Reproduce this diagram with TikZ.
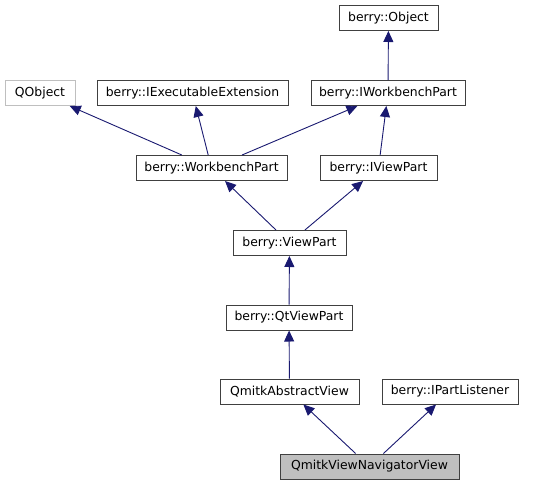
\documentclass[tikz,border=0pt]{standalone}
\usepackage{fontspec}
\setmainfont{DejaVu Sans}
\usetikzlibrary{arrows.meta}
\definecolor{edgeblue}{HTML}{191970}
\definecolor{boxgray}{HTML}{404040}
\definecolor{lightgray}{HTML}{BFBFBF}
\tikzset{
  cls/.style={draw=boxgray, fill=white, line width=1pt, minimum height=25pt, inner sep=0pt, font=\fontsize{12.4}{14}\selectfont},
  ext/.style={cls, draw=lightgray},
  this/.style={cls, fill=lightgray},
  inherit/.style={edgeblue, line width=0.9pt, {Triangle[length=11pt, width=10pt]}-}
}

\begin{document}
\begin{tikzpicture}[x=1pt, y=-1pt]
            \useasboundingbox (0,0) rectangle (556,485);
            \node[cls, minimum width=99pt] (object) at (388.5,18) {berry::Object};
            \node[ext, minimum width=70pt] (qobject) at (40,93) {QObject};
            \node[cls, minimum width=191pt] (execext) at (192.5,93) {berry::IExecutableExtension};
            \node[cls, minimum width=154pt] (iwbpart) at (388,93) {berry::IWorkbenchPart};
            \node[cls, minimum width=151pt] (wbpart) at (211.5,168) {berry::WorkbenchPart};
            \node[cls, minimum width=117pt] (iviewpart) at (378.5,168) {berry::IViewPart};
            \node[cls, minimum width=113pt] (viewpart) at (289.5,243) {berry::ViewPart};
            \node[cls, minimum width=126pt] (qtviewpart) at (289,317.5) {berry::QtViewPart};
            \node[cls, minimum width=139pt] (abstractview) at (289.5,391.5) {QmitkAbstractView};
            \node[cls, minimum width=136pt] (partlistener) at (450,391.5) {berry::IPartListener};
            \node[this, minimum width=179pt] (navview) at (369.5,466.5) {QmitkViewNavigatorView};
            \draw[inherit] (object) -- (iwbpart);
            \draw[inherit] (qobject) -- (wbpart);
            \draw[inherit] (execext) -- (wbpart);
            \draw[inherit] (iwbpart) -- (wbpart);
            \draw[inherit] (iwbpart) -- (iviewpart);
            \draw[inherit] (wbpart) -- (viewpart);
            \draw[inherit] (iviewpart) -- (viewpart);
            \draw[inherit] (viewpart) -- (qtviewpart);
            \draw[inherit] (qtviewpart) -- (abstractview);
            \draw[inherit] (abstractview) -- (navview);
            \draw[inherit] (partlistener) -- (navview);
        \end{tikzpicture}
\end{document}
